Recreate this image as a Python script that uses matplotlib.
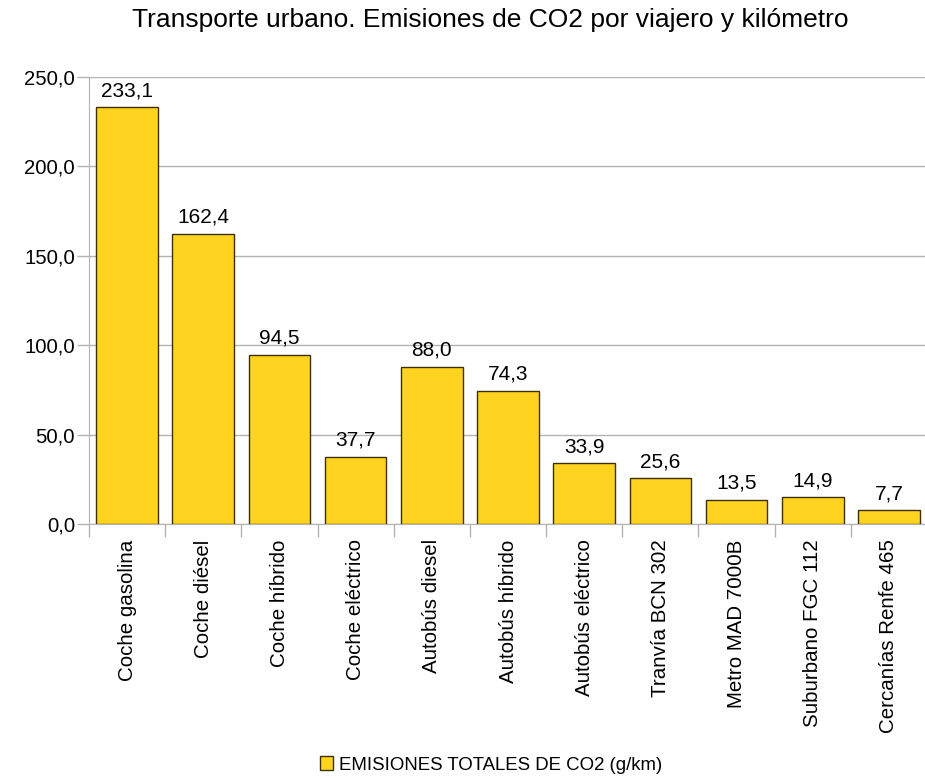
import matplotlib
matplotlib.use('Agg')
import matplotlib.pyplot as plt
import numpy as np
from matplotlib.patches import Patch

plt.rcParams['font.family'] = ['Liberation Sans', 'DejaVu Sans']

# datos
categorias = ['Coche gasolina', 'Coche diésel', 'Coche híbrido', 'Coche eléctrico',
              'Autobús diesel', 'Autobús híbrido', 'Autobús eléctrico', 'Tranvía BCN 302',
              'Metro MAD 7000B', 'Suburbano FGC 112', 'Cercanías Renfe 465']
emisiones = [233.1, 162.4, 94.5, 37.7, 88.0, 74.3, 33.9, 25.6, 13.5, 14.9, 7.7]
yticks = [0, 50, 100, 150, 200, 250]
serie = 'EMISIONES TOTALES DE CO2 (g/km)'

amarillo = '#FFD320'
borde = '#3B3000'
gris = '#B3B3B3'

fig = plt.figure(figsize=(9.25, 7.78), dpi=100)
# el area de trazado sale un poco por la derecha, como en el original
ax = fig.add_axes([89/925, 1-524/778, (927-89)/925, (524-77)/778])

x = np.arange(len(categorias))
ax.bar(x, emisiones, width=0.81, color=amarillo, edgecolor=borde, linewidth=1, zorder=3)

for xi, v in zip(x, emisiones):
    ax.text(xi, v + 4, ('%.1f' % v).replace('.', ','), ha='center', va='bottom', fontsize=15)

ax.set_xlim(-0.5, len(categorias) - 0.5)
ax.set_ylim(0, 250)
ax.set_yticks(yticks)
ax.set_yticklabels([('%.1f' % t).replace('.', ',') for t in yticks], fontsize=14.6)
ax.yaxis.grid(True, color=gris, linewidth=1, zorder=0)

ax.set_xticks(x)
ax.set_xticklabels(categorias, rotation=90, fontsize=14.8)
ax.tick_params(axis='x', length=0, pad=11)
ax.set_xticks(np.arange(-0.5, len(categorias)), minor=True)
ax.tick_params(axis='x', which='minor', length=9, color=gris, width=1)
ax.tick_params(axis='y', length=9, color=gris, width=1, pad=1)

for s in ['top', 'right']:
    ax.spines[s].set_visible(False)
ax.spines['left'].set_color(gris)
ax.spines['bottom'].set_color(gris)

fig.text(490/925, 1-20/778, 'Transporte urbano. Emisiones de CO2 por viajero y kilómetro',
         fontsize=19, ha='center', va='center')

fig.legend(handles=[Patch(facecolor=amarillo, edgecolor=borde, linewidth=1)], labels=[serie],
           loc='center', bbox_to_anchor=(491/925, 1-765/778), frameon=False, fontsize=13.4,
           handlelength=0.7, handleheight=0.7, handletextpad=0.35)

fig.savefig('out.png', dpi=100)
